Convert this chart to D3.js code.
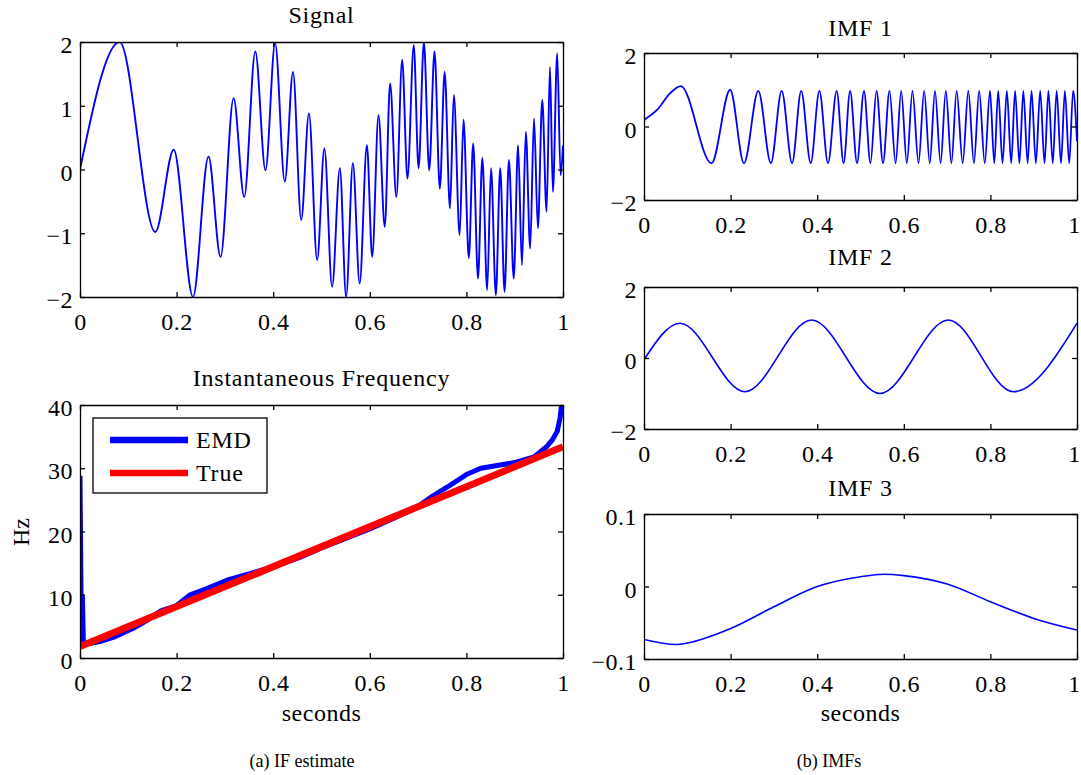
<!DOCTYPE html>
<html>
<head>
<meta charset="utf-8">
<script src="https://cdn.jsdelivr.net/npm/d3@7"></script>
<style>
  body { margin: 0; background: #fff; }
  svg text { font-family: "Liberation Serif", "DejaVu Serif", serif; fill: #000; }
  .axis text { font-size: 24px; letter-spacing: 0.5px; }
  .axis path, .axis line { stroke: #000; stroke-width: 1.3px; }
</style>
</head>
<body>
<div id="chart"></div>
<script>
// ---- data ----
var xTicks = [0, 0.2, 0.4, 0.6, 0.8, 1];

// signal: extrema [t, value]
var signalPts = [[0,0],[0.082,2],[0.156,-0.98],[0.194,0.31],[0.234,-2],[0.266,0.2],[0.291,-1.37],
  [0.318,1.12],[0.34,-0.43],[0.363,1.85],[0.384,-0.01],[0.404,1.98],[0.424,-0.19],[0.441,1.53],
  [0.458,-0.79],[0.474,0.88],[0.491,-1.42],[0.506,0.33],[0.522,-1.84],[0.538,0.02],[0.551,-2],
  [0.565,0.1],[0.579,-1.79],[0.594,0.38],[0.605,-1.37],[0.618,0.85],[0.631,-0.9],[0.642,1.35],
  [0.655,-0.43],[0.667,1.72],[0.678,-0.14],[0.691,1.95],[0.701,0.02],[0.712,2],[0.723,-0.01],
  [0.734,1.85],[0.745,-0.3],[0.755,1.53],[0.766,-0.61],[0.774,1.17],[0.786,-1.03],[0.794,0.78],
  [0.805,-1.39],[0.814,0.41],[0.824,-1.71],[0.833,0.18],[0.843,-1.89],[0.851,0.02],[0.861,-1.97],
  [0.87,0.02],[0.879,-1.92],[0.888,0.15],[0.898,-1.71],[0.907,0.38],[0.915,-1.5],[0.923,0.59],
  [0.932,-1.24],[0.94,0.8],[0.948,-0.92],[0.957,1.09],[0.966,-0.66],[0.973,1.61],[0.979,-0.35],
  [0.988,1.82],[0.995,-0.09],[1,0.38]];

// instantaneous frequency (Hz)
var ifEmd = [[0,28.8],[0.003,2.5],[0.005,9.8],[0.007,2.4],[0.02,2.3],[0.041,2.6],[0.07,3.3],
  [0.11,4.7],[0.14,6.0],[0.166,7.4],[0.2,8.3],[0.228,10.0],[0.26,10.9],[0.304,12.3],[0.359,13.5],
  [0.4,14.4],[0.455,15.9],[0.5,17.4],[0.55,18.9],[0.6,20.4],[0.65,22.1],[0.7,24.0],[0.73,25.6],
  [0.76,27.0],[0.8,29.0],[0.83,30.0],[0.87,30.5],[0.9,30.9],[0.94,31.8],[0.966,33.4],[0.978,34.5],
  [0.988,35.8],[0.994,38],[0.997,40],[1,40]];
var ifTrue = [[0,1.8],[1,33.4]];

// IMF 1: extrema
var imf1Pts = [[0,0.18],[0.03,0.45],[0.06,0.9],[0.085,1.1],[0.156,-1.0],[0.199,1.0],[0.231,-1.0],
  [0.264,0.97],[0.293,-1.0],[0.318,0.97],[0.342,-1.0],[0.363,0.97],[0.385,-1.0],[0.405,0.97],
  [0.425,-1.0],[0.445,0.97],[0.461,-1.0],[0.476,0.97],[0.492,-1.0],[0.508,0.97],[0.523,-1.0],
  [0.537,0.97],[0.552,-1.0],[0.567,0.97],[0.581,-1.0],[0.594,0.97],[0.607,-1.0],[0.62,0.97],
  [0.634,-1.0],[0.647,0.97],[0.66,-1.0],[0.672,0.97],[0.685,-1.0],[0.697,0.97],[0.71,-1.0],
  [0.722,0.97],[0.736,-1.0],[0.749,0.97],[0.762,-1.0],[0.774,0.97],[0.787,-1.0],[0.799,0.97],
  [0.809,-1.0],[0.818,0.97],[0.828,-1.0],[0.838,0.97],[0.848,-1.0],[0.857,0.97],[0.867,-1.0],
  [0.876,0.97],[0.886,-1.0],[0.895,0.97],[0.905,-1.0],[0.915,0.97],[0.925,-1.0],[0.934,0.97],
  [0.944,-1.0],[0.953,0.97],[0.963,-1.0],[0.972,0.97],[0.982,-1.0],[0.991,0.97],[1,-0.4]];

// IMF 2: extrema
var imf2Pts = [[0,-0.05],[0.083,0.98],[0.233,-0.95],[0.387,1.07],[0.545,-1.0],[0.703,1.07],
  [0.853,-0.95],[1,0.98]];

// IMF 3: samples
var imf3Pts = [[0,-0.073],[0.075,-0.08],[0.1,-0.078],[0.2,-0.058],[0.3,-0.028],[0.4,0.0],
  [0.5,0.0135],[0.553,0.017],[0.6,0.015],[0.7,0.0035],[0.8,-0.021],[0.9,-0.044],[1,-0.06]];

// ---- drawing ----
var W = 1081, H = 775;
var serif = "'Liberation Serif', 'DejaVu Serif', serif";
var svg = d3.select("#chart").append("svg")
  .attr("width", W).attr("height", H)
  .attr("font-family", serif)
  .style("background", "#fff");

var fmt = d3.format("~g");
var clipId = 0;

function panel(opt) {
  var g = svg.append("g")
    .attr("transform", "translate(" + opt.left + "," + opt.top + ")");

  var x = d3.scaleLinear().domain([0, 1]).range([0, opt.w]);
  var y = d3.scaleLinear().domain(opt.yDomain).range([opt.h, 0]);

  clipId++;
  g.append("clipPath").attr("id", "clip" + clipId)
    .append("rect").attr("width", opt.w).attr("height", opt.h);

  var plot = g.append("g").attr("clip-path", "url(#clip" + clipId + ")");

  // lines
  opt.series.forEach(function(s) {
    plot.append("path")
      .datum(s.data)
      .attr("fill", "none")
      .attr("stroke", s.color)
      .attr("stroke-width", s.width)
      .attr("stroke-linejoin", "round")
      .attr("d", d3.line()
        .curve(s.curve || d3.curveLinear)
        .x(function(d) { return x(d[0]); })
        .y(function(d) { return y(d[1]); }));
  });

  // box with inward ticks on all four sides
  var xb = g.append("g").attr("class", "axis")
    .attr("transform", "translate(0," + opt.h + ")")
    .call(d3.axisBottom(x).tickValues(xTicks).tickFormat(fmt)
      .tickSizeInner(-5).tickSizeOuter(0).tickPadding(16));
  // last label sits on the page edge on the right column
  if (opt.left + opt.w > 1070) {
    xb.selectAll("text").filter(function(d) { return d === 1; }).attr("dx", -3);
  }
  g.append("g").attr("class", "axis")
    .call(d3.axisTop(x).tickValues(xTicks).tickFormat("")
      .tickSizeInner(-5).tickSizeOuter(0));
  g.append("g").attr("class", "axis")
    .call(d3.axisLeft(y).tickValues(opt.yTicks).tickFormat(fmt)
      .tickSizeInner(-5).tickSizeOuter(0).tickPadding(7))
    .selectAll("text").attr("dy", "0.44em");
  g.append("g").attr("class", "axis")
    .attr("transform", "translate(" + opt.w + ",0)")
    .call(d3.axisRight(y).tickValues(opt.yTicks).tickFormat("")
      .tickSizeInner(-5).tickSizeOuter(0));
  g.selectAll(".axis").attr("font-family", serif).attr("font-size", 24);

  // title
  g.append("text")
    .attr("x", opt.w / 2).attr("y", opt.titleY - opt.top)
    .attr("text-anchor", "middle")
    .style("font-size", "24px").style("letter-spacing", "0.8px")
    .text(opt.title);

  if (opt.xlabel) {
    g.append("text")
      .attr("x", opt.w / 2).attr("y", 721 - opt.top)
      .attr("text-anchor", "middle")
      .style("font-size", "24px").style("letter-spacing", "0.5px")
      .text(opt.xlabel);
  }
  return g;
}

panel({ left: 80, top: 42, w: 483, h: 255, yDomain: [-2, 2], yTicks: [-2, -1, 0, 1, 2],
  title: "Signal", titleY: 23,
  series: [{ data: signalPts, color: "#0000ff", width: 1.9, curve: d3.curveMonotoneX }] });

panel({ left: 80, top: 405, w: 483, h: 253, yDomain: [0, 40], yTicks: [0, 10, 20, 30, 40],
  title: "Instantaneous Frequency", titleY: 386, xlabel: "seconds",
  series: [{ data: ifEmd, color: "#0000ff", width: 5 },
           { data: ifTrue, color: "#ff0000", width: 7 }] });

panel({ left: 644, top: 53, w: 433, h: 147, yDomain: [-2, 2], yTicks: [-2, 0, 2],
  title: "IMF 1", titleY: 36,
  series: [{ data: imf1Pts, color: "#0000ff", width: 1.8, curve: d3.curveMonotoneX }] });

panel({ left: 644, top: 287, w: 433, h: 142, yDomain: [-2, 2], yTicks: [-2, 0, 2],
  title: "IMF 2", titleY: 265,
  series: [{ data: imf2Pts, color: "#0000ff", width: 1.6, curve: d3.curveMonotoneX }] });

panel({ left: 644, top: 514, w: 433, h: 145, yDomain: [-0.1, 0.1], yTicks: [-0.1, 0, 0.1],
  title: "IMF 3", titleY: 496, xlabel: "seconds",
  series: [{ data: imf3Pts, color: "#0000ff", width: 1.6, curve: d3.curveMonotoneX }] });

// legend of the IF panel
var leg = svg.append("g");
leg.append("rect").attr("x", 93).attr("y", 418).attr("width", 174).attr("height", 75)
  .attr("fill", "#fff").attr("stroke", "#000").attr("stroke-width", 1.3);
[["EMD", "#0000ff", 440], ["True", "#ff0000", 473]].forEach(function(d) {
  leg.append("line").attr("x1", 110).attr("x2", 188).attr("y1", d[2]).attr("y2", d[2])
    .attr("stroke", d[1]).attr("stroke-width", 6.5);
  leg.append("text").attr("x", 196).attr("y", d[2] + 8)
    .style("font-size", "24px").style("letter-spacing", "0.8px").text(d[0]);
});

// y label
svg.append("text")
  .attr("transform", "translate(29,532) rotate(-90)")
  .attr("text-anchor", "middle")
  .style("font-size", "24px")
  .text("Hz");

// captions
svg.append("text").attr("x", 302).attr("y", 767).attr("text-anchor", "middle")
  .style("font-size", "18px").text("(a) IF estimate");
svg.append("text").attr("x", 829).attr("y", 767).attr("text-anchor", "middle")
  .style("font-size", "18px").text("(b) IMFs");
</script>
</body>
</html>
